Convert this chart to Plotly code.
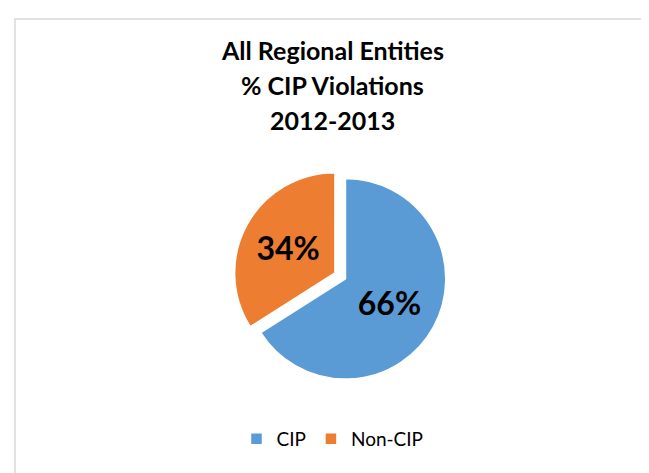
import plotly.graph_objects as go

labels = ["CIP", "Non-CIP"]
values = [66, 34]
colors = ["#5B9BD5", "#ED7D31"]
title_lines = ["All Regional Entities", "% CIP Violations", "2012-2013"]

fig = go.Figure()
fig.add_trace(go.Pie(
    labels=labels,
    values=values,
    sort=False,
    direction="clockwise",
    rotation=0,
    pull=[0, 0.12],
    marker=dict(colors=colors, line=dict(color="white", width=1.5)),
    textinfo="percent",
    texttemplate="<b>%{percent:.0%}</b>",
    textposition="inside",
    insidetextorientation="horizontal",
    textfont=dict(family="Lato", size=32, color="black"),
    domain=dict(x=[0.32, 0.72], y=[0.19, 0.665]),
    hoverinfo="label+percent",
))

annotations = []
for i, t in enumerate(title_lines):
    annotations.append(dict(
        text=f"<b>{t}</b>", showarrow=False,
        xref="paper", yref="paper",
        x=0.5, xanchor="center",
        y=1 - (42 + 35 * i) / 473, yanchor="middle",
        font=dict(family="Lato", size=25, color="black"),
    ))

fig.update_layout(
    width=649, height=473,
    margin=dict(l=0, r=0, t=0, b=0),
    paper_bgcolor="white",
    plot_bgcolor="white",
    annotations=annotations,
    legend=dict(
        orientation="h",
        x=0.5, xanchor="center",
        y=1 - 431 / 473, yanchor="middle",
        font=dict(family="Lato", size=19, color="black"),
        itemwidth=30,
    ),
    shapes=[dict(
        type="rect", xref="paper", yref="paper",
        x0=7 / 649, x1=1.02, y0=-0.02, y1=1 - 11 / 473,
        line=dict(color="#D9D9D9", width=1.5),
        fillcolor="rgba(0,0,0,0)", layer="below",
    )],
)

fig.write_html("out.html")
